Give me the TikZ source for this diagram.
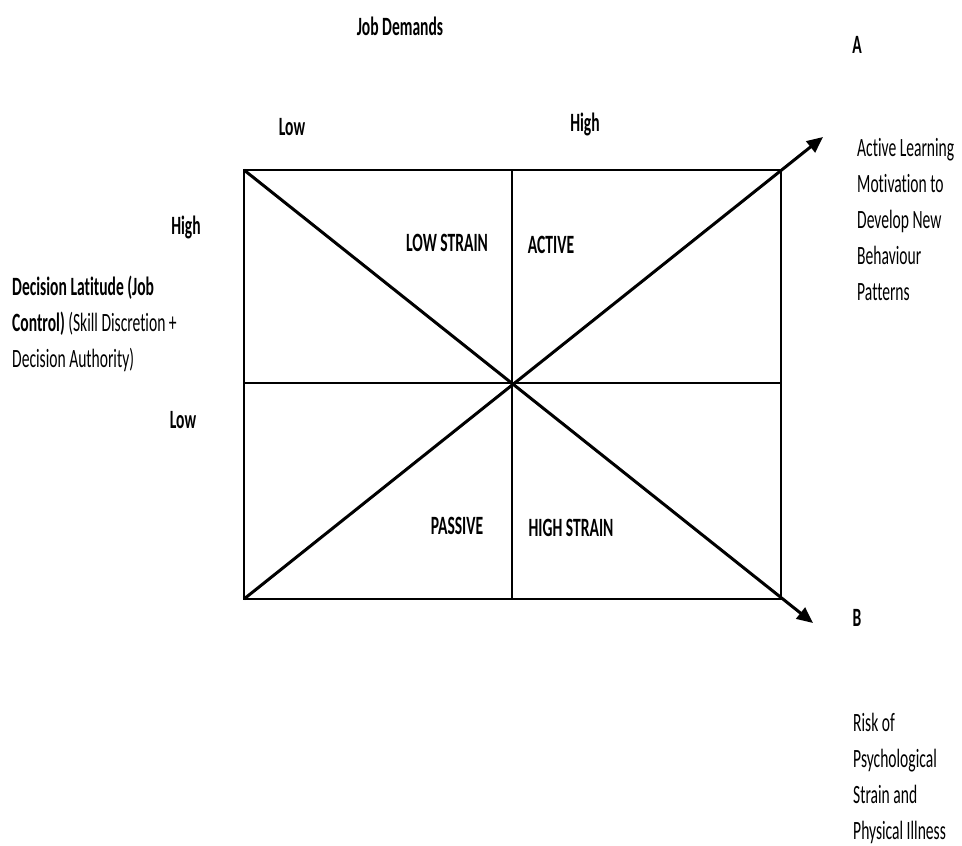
\documentclass[tikz,border=0pt]{standalone}
\usepackage{fontspec}
\setmainfont{Carlito}[FakeStretch=0.59, Ligatures={NoCommon}]
\usetikzlibrary{positioning,arrows.meta}

\begin{document}
\begin{tikzpicture}[
  x=1pt, y=-1pt,
  font=\fontsize{26.4}{36}\selectfont,
  lbl/.style={inner sep=0pt},
  head/.style={lbl, font=\fontsize{26.4}{36}\selectfont\bfseries},
  note/.style={lbl, anchor=north west, align=left},
  grid/.style={draw, line width=1.3pt},
  axis/.style={line width=3pt, -{Triangle[length=16pt,width=14pt]}}
]
  \useasboundingbox (0,0) rectangle (962,846);

  % Corners of the grid
  \coordinate (tl) at (244,170);
  \coordinate (tr) at (781,170);
  \coordinate (bl) at (244,599);
  \coordinate (br) at (781,599);
  \coordinate (tm) at (512,170);
  \coordinate (bm) at (512,599);
  \coordinate (ml) at (244,383);
  \coordinate (mr) at (781,383);
  \coordinate (tipA) at (823,137);
  \coordinate (tipB) at (813,623);

  % Grid
  \draw[grid] (tl) rectangle (br);
  \draw[grid] (tm) -- (bm);
  \draw[grid] (ml) -- (mr);

  % Nodes
  \node[head] (dem) at (400,26) {Job Demands};
  \node[head] (lowd) at (292,127) {Low};
  \node[head] (highd) at (585,124) {High};
  \node[head] (highc) at (186,227) {High};
  \node[head] (lowc) at (183,420) {Low};
  \node[note] (ctrl) at (12,276) {\textbf{Decision Latitude (Job}\\\textbf{Control)} (Skill Discretion +\\Decision Authority)};
  \node[head] (lows) at (447,243) {LOW STRAIN};
  \node[head] (act) at (551,245) {ACTIVE};
  \node[head] (pas) at (457,526) {PASSIVE};
  \node[head] (highs) at (571,528) {HIGH STRAIN};
  \node[head] (a) at (857,45) {A};
  \node[note] (learn) at (857,138) {Active Learning\\Motivation to\\Develop New\\Behaviour\\Patterns};
  \node[head] (b) at (857,618) {B};
  \node[note] (risk) at (853,713) {Risk of\\Psychological\\Strain and\\Physical Illness};

  % Arrows
  \draw[axis] (bl) -- (tipA);
  \draw[axis] (tl) -- (tipB);
\end{tikzpicture}
\end{document}
